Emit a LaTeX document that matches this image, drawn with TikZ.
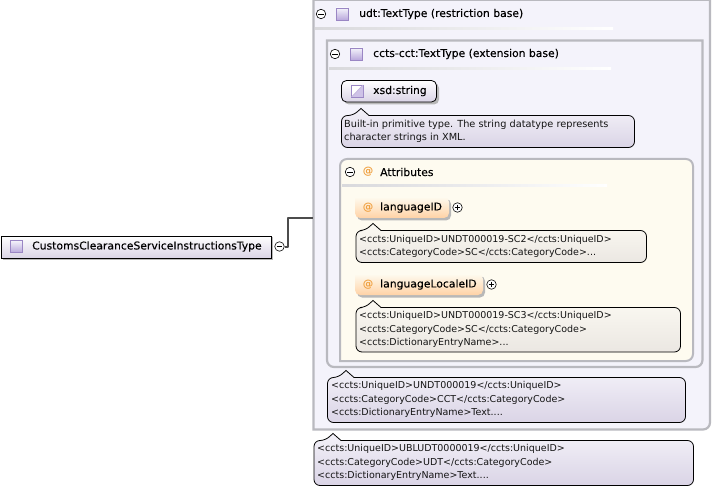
\documentclass[tikz,border=0pt]{standalone}
\usepackage{fontspec}
\setmainfont{DejaVu Sans}
\newfontfamily\medfont[FakeBold=0.08]{DejaVu Sans}
\usetikzlibrary{calc}
\definecolor{boxgray}{HTML}{B9B9BF}
\definecolor{lav}{HTML}{F4F3FB}
\definecolor{lavdark}{HTML}{DAD4E6}
\definecolor{lavtop}{HTML}{F3F1F8}
\definecolor{cream}{HTML}{FEFBF0}
\definecolor{calgray}{HTML}{EBE7E2}
\definecolor{caltop}{HTML}{FBF9F2}
\definecolor{iconfill}{HTML}{B9A8DC}
\definecolor{iconline}{HTML}{9A86C4}
\definecolor{atcol}{HTML}{F0A040}
\tikzset{
  outerbox/.style={draw=boxgray,line width=2.2pt,fill=lav},
  attrbox/.style={draw=boxgray,line width=2pt,fill=cream},
  sep/.style={left color=boxgray!55,right color=white,draw=none},
  head/.style={anchor=west,inner sep=0pt,font=\medfont\fontsize{10.8}{12}\selectfont,text=black},
  tiptext/.style={anchor=west,inner sep=0pt,align=left,font=\fontsize{9.75}{13.6}\selectfont,text=black!92},
  xmltext/.style={tiptext,font=\fontsize{9.5}{13.6}\selectfont},
  circ/.style={circle,draw=black,line width=.6pt,fill=white,minimum size=9.5pt,inner sep=0pt},
  pmline/.style={draw=black,line width=.6pt},
  shadowed/.style={fill=black!28},
  icon/.style={rectangle,draw=iconline,line width=.7pt,top color=lav,bottom color=iconfill,minimum size=12pt,inner sep=0pt},
  atsign/.style={inner sep=0pt,text=atcol,font=\bfseries\fontsize{10.5}{12}\selectfont},
  callfill/.style={draw=black,line width=.8pt,top color=#1top,bottom color=#1},
  wire/.style={draw=black!70,line width=2pt,line join=round},
}
\colorlet{lavdarktop}{lavtop}
\colorlet{calgraytop}{caltop}
% \tipbox{x1}{y1}{x2}{y2}{tip x}{fill}
\newcommand{\tipbox}[6]{
  \path[callfill=#6,rounded corners=5pt] (#1,#2) -- (#5-8,#2) [sharp corners] -- (#5,#2-7) -- (#5+8,#2)
    [rounded corners=6pt] -- (#3,#2) -- (#3,#4) -- (#1,#4) -- cycle;
}
\newcommand{\minuscirc}[2]{
  \node[circ] (#1) at #2 {};
  \draw[pmline] ($(#1)+(-2.8,0)$) -- ($(#1)+(2.8,0)$);
}
\newcommand{\pluscirc}[2]{
  \node[circ] (#1) at #2 {};
  \draw[pmline] ($(#1)+(-2.8,0)$) -- ($(#1)+(2.8,0)$) ($(#1)+(0,-2.8)$) -- ($(#1)+(0,2.8)$);
}
\begin{document}
\begin{tikzpicture}[x=1pt,y=-1pt]
\useasboundingbox (0,0) rectangle (712,489);
\fill[white] (0,0) rectangle (712,489);

% outer restriction box
\path[outerbox] (313.5,-0.3) -- (710,-0.3) [rounded corners=7pt] -- (710,429.5) [sharp corners] -- (313.5,429.5) -- cycle;
\minuscirc{mUdt}{(321,14)}
\node[icon] (iUdt) at (342,14) {};
\node[head] (tUdt) at (359,14) {udt:TextType (restriction base)};
\fill[sep] (315,28) rectangle (613,30);

% inner extension box
\path[outerbox] (327,40.5) -- (702.5,40.5) [rounded corners=7pt] -- (702.5,367) -- (327,367) [sharp corners] -- cycle;
\minuscirc{mCct}{(335,54)}
\node[icon] (iCct) at (356,54) {};
\node[head] (tCct) at (373,54) {ccts-cct:TextType (extension base)};
\fill[sep] (329,68) rectangle (611,70);

% xsd:string
\path[shadowed,rounded corners=5pt] (344,83) -- (439,83) -- (439,104.5) -- (344,104.5) -- cycle;
\path[draw=black,line width=.8pt,top color=white,bottom color=lavdark,rounded corners=5pt] (341.5,80.5) -- (436.5,80.5) -- (436.5,102) -- (341.5,102) -- cycle;
\draw[iconline,line width=.7pt,fill=white] (351.5,85) rectangle (363,97);
\fill[iconfill!70] (351.5,97) -- (363,85) -- (363,97) -- cycle;
\draw[iconline!60,line width=.7pt] (351.5,97) -- (363,85);
\node[head] (tXsd) at (373,91) {xsd:string};
\tipbox{341.5}{115.5}{634.5}{147.5}{361}{lavdark}
\node[tiptext] (cXsd) at (344,131.5) {Built-in primitive type. The string datatype represents\\character strings in XML.};

% attributes
\path[attrbox,rounded corners=7pt] (340,361) -- (693,361) -- (693,159) -- (340,159) [sharp corners] -- cycle;
\minuscirc{mAttr}{(350,172)}
\node[atsign] (aAttr) at (368,172) {@};
\node[head] (tAttr) at (380,172) {Attributes};
\fill[sep] (342,185) rectangle (607,187);

% languageID
\path[shadowed,rounded corners=5pt] (357,199) -- (451,199) -- (451,220.5) -- (357,220.5) -- cycle;
\path[top color=cream,bottom color=orange!35!white,rounded corners=5pt] (355,197) -- (449,197) -- (449,218) -- (355,218) [sharp corners] -- cycle;
\node[atsign] (aLang) at (368,207.5) {@};
\node[head] (tLang) at (380,207.5) {languageID};
\pluscirc{pLang}{(457.5,207.5)}
\tipbox{356}{230.5}{646.5}{262.5}{373}{calgray}
\node[xmltext] (cLang) at (359,246.5) {<ccts:UniqueID>UNDT000019-SC2</ccts:UniqueID>\\<ccts:CategoryCode>SC</ccts:CategoryCode>...};

% languageLocaleID
\path[shadowed,rounded corners=5pt] (357,276) -- (485,276) -- (485,297.5) -- (357,297.5) -- cycle;
\path[top color=cream,bottom color=orange!35!white,rounded corners=5pt] (355,274) -- (483,274) -- (483,295) -- (355,295) [sharp corners] -- cycle;
\node[atsign] (aLoc) at (368,284.5) {@};
\node[head] (tLoc) at (380,284.5) {languageLocaleID};
\pluscirc{pLoc}{(491.5,284.5)}
\tipbox{356}{307.5}{680.5}{352}{373}{calgray}
\node[xmltext] (cLoc) at (359,329.5) {<ccts:UniqueID>UNDT000019-SC3</ccts:UniqueID>\\<ccts:CategoryCode>SC</ccts:CategoryCode>\\<ccts:DictionaryEntryName>...};

% annotations
\tipbox{327.5}{377.5}{685.5}{422.5}{346}{lavdark}
\node[xmltext] (cCct) at (331,399.5) {<ccts:UniqueID>UNDT000019</ccts:UniqueID>\\<ccts:CategoryCode>CCT</ccts:CategoryCode>\\<ccts:DictionaryEntryName>Text....};
\tipbox{314}{440.5}{693.5}{485.5}{333}{lavdark}
\node[xmltext] (cUdt) at (317,462.5) {<ccts:UniqueID>UBLUDT0000019</ccts:UniqueID>\\<ccts:CategoryCode>UDT</ccts:CategoryCode>\\<ccts:DictionaryEntryName>Text....};

% root
\fill[black!28] (3,237) rectangle (273,259.5);
\node[draw=black,line width=.8pt,top color=white,bottom color=lavdark,minimum width=270pt,minimum height=22pt,inner sep=0pt,anchor=north west] (root) at (1,235.5) {};
\node[icon] (iRoot) at (16,246.5) {};
\node[head] (tRoot) at (32,246.5) {CustomsClearanceServiceInstructionsType};
\minuscirc{mRoot}{(279.5,246.5)}
\coordinate (entry) at (313,218.5);
\draw[wire] (mRoot.east) -- ++(3,0) |- (entry);
\end{tikzpicture}
\end{document}
